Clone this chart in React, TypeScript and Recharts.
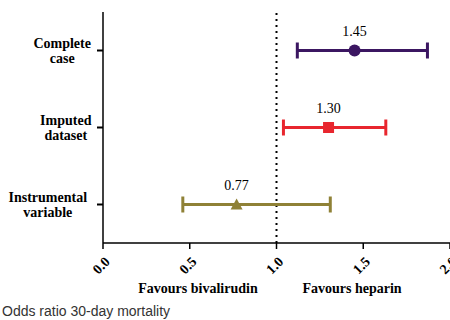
import React from 'react';
import { ScatterChart, Scatter, XAxis, YAxis, ErrorBar, ReferenceLine, LabelList } from 'recharts';

const categories = ['Complete case', 'Imputed dataset', 'Instrumental variable'];
const categoryLines = [['Complete', 'case'], ['Imputed', 'dataset'], ['Instrumental', 'variable']];
const rowPositions = [0.5, 1.5, 2.5];
const oddsRatios = [1.45, 1.3, 0.77];
const lowerCI = [1.12, 1.04, 0.46];
const upperCI = [1.87, 1.63, 1.31];
const xTicks = [0, 0.5, 1, 1.5, 2];
const colors = ['#3b1661', '#e8262e', '#8f8136'];
const markerKinds = ['circle', 'square', 'triangle'];
const labelStrings = ['1.45', '1.30', '0.77'];

const seriesData = categories.map((c, i) => [
  {
    name: c,
    x: oddsRatios[i],
    y: rowPositions[i],
    err: [oddsRatios[i] - lowerCI[i], upperCI[i] - oddsRatios[i]],
    label: labelStrings[i],
  },
]);

const serif = '"Liberation Serif", "Times New Roman", serif';

const makeMarker = (kind: string, color: string) => (p: any) => {
  const { cx, cy } = p;
  if (cx == null || cy == null) return <g />;
  if (kind === 'circle') return <circle cx={cx} cy={cy} r={6} fill={color} />;
  if (kind === 'square') return <rect x={cx - 5.5} y={cy - 5.5} width={11} height={11} fill={color} />;
  return <polygon points={`${cx},${cy - 6} ${cx + 6},${cy + 5} ${cx - 6},${cy + 5}`} fill={color} />;
};

const YTick = (props: any) => {
  const { x, y, payload } = props;
  const idx = rowPositions.indexOf(payload.value);
  if (idx < 0) return null;
  const lines = categoryLines[idx];
  const maxChars = Math.max(...lines.map((l) => l.length));
  const cx = x - 4 - maxChars * 3.6;
  return (
    <text x={cx} y={y} textAnchor="middle" fontFamily={serif} fontWeight="bold" fontSize={14} fill="#000">
      <tspan x={cx} dy={-3}>{lines[0]}</tspan>
      <tspan x={cx} dy={15}>{lines[1]}</tspan>
    </text>
  );
};

const XTick = (props: any) => {
  const { x, y, payload } = props;
  return (
    <g transform={`translate(${x + 2},${y + 6})`}>
      <text x={0} y={0} textAnchor="end" transform="rotate(-45)" dy={8} fontFamily={serif} fontWeight="bold" fontSize={14} fill="#000">
        {payload.value.toFixed(1)}
      </text>
    </g>
  );
};

export default function App() {
  return (
    <div style={{ position: 'absolute', left: 0, top: 0, width: 450, height: 320, background: '#fff' }}>
      <ScatterChart width={450} height={320} margin={{ top: 12, right: 0, bottom: 47, left: 0 }}>
        <XAxis
          type="number"
          dataKey="x"
          domain={[0, 2]}
          ticks={xTicks}
          interval={0}
          height={30}
          tick={<XTick />}
          tickSize={6}
          axisLine={{ stroke: '#000', strokeWidth: 1.5 }}
          tickLine={{ stroke: '#000', strokeWidth: 1.5 }}
        />
        <YAxis
          type="number"
          dataKey="y"
          domain={[0, 3]}
          reversed
          ticks={rowPositions}
          interval={0}
          width={103}
          tick={<YTick />}
          tickSize={6}
          axisLine={{ stroke: '#000', strokeWidth: 1.5 }}
          tickLine={{ stroke: '#000', strokeWidth: 2 }}
        />
        <ReferenceLine x={1} stroke="#000" strokeWidth={2} strokeDasharray="2 4" />
        {seriesData.map((d, i) => (
          <Scatter
            key={i}
            data={d}
            fill={colors[i]}
            shape={makeMarker(markerKinds[i], colors[i])}
            isAnimationActive={false}
          >
            <ErrorBar
              dataKey="err"
              direction="x"
              width={8}
              stroke={colors[i]}
              strokeWidth={3}
              isAnimationActive={false}
            />
            <LabelList dataKey="label" position="top" offset={10} fontFamily={serif} fontSize={14} fill="#000" />
          </Scatter>
        ))}
      </ScatterChart>
      <div style={{ position: 'absolute', left: 133, top: 281, width: 130, textAlign: 'center', fontFamily: serif, fontWeight: 'bold', fontSize: 14, whiteSpace: 'nowrap', color: '#000' }}>
        Favours bivalirudin
      </div>
      <div style={{ position: 'absolute', left: 297, top: 281, width: 110, textAlign: 'center', fontFamily: serif, fontWeight: 'bold', fontSize: 14, whiteSpace: 'nowrap', color: '#000' }}>
        Favours heparin
      </div>
      <div style={{ position: 'absolute', left: 2, top: 303, fontFamily: '"Liberation Sans", Arial, sans-serif', fontSize: 14, whiteSpace: 'nowrap', color: '#333' }}>
        Odds ratio 30-day mortality
      </div>
    </div>
  );
}
